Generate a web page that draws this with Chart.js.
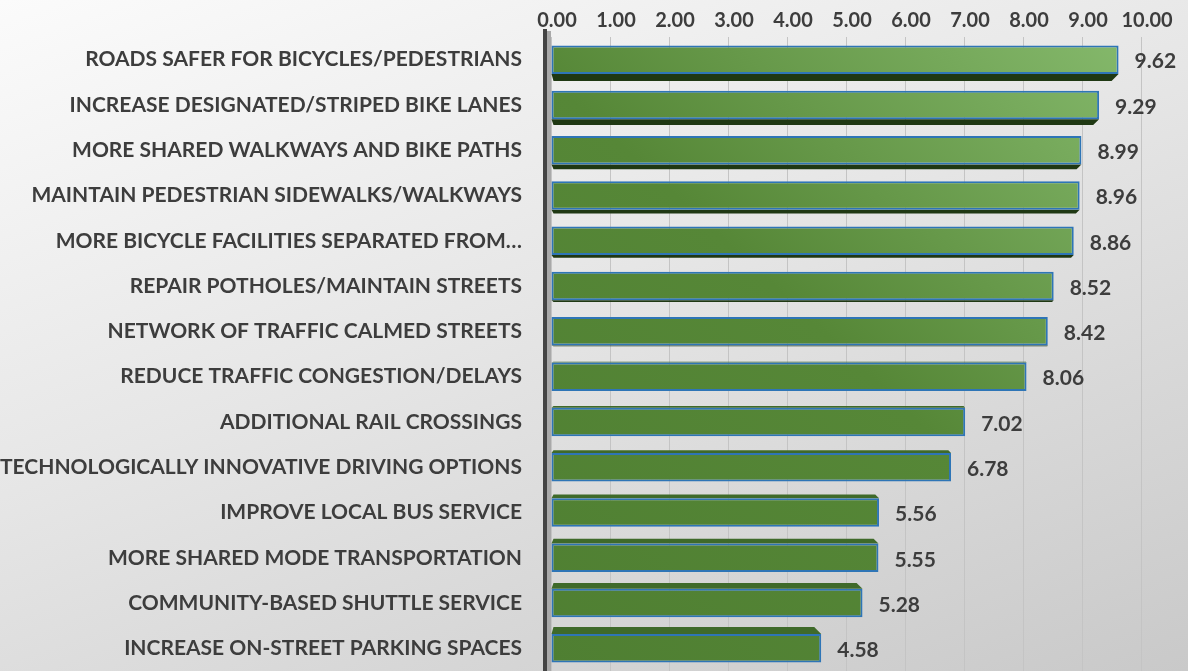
<!DOCTYPE html>
<html>
<head>
<meta charset="utf-8">
<script src="https://cdn.jsdelivr.net/npm/chart.js@4.4.1/dist/chart.umd.min.js"></script>
<style>
  html, body { margin:0; padding:0; }
  body { width:1188px; height:671px; overflow:hidden;
    background: linear-gradient(160deg, #fbfbfb 0%, #e6e6e6 45%, #c9c9c9 100%); }
  #wrap { position:relative; width:1188px; height:671px; }
</style>
</head>
<body>
<div id="wrap"><canvas id="chart" width="1188" height="671"></canvas></div>
<script>
// priorities, ranked by mean score
const categories = [
  'ROADS SAFER FOR BICYCLES/PEDESTRIANS',
  'INCREASE DESIGNATED/STRIPED BIKE LANES',
  'MORE SHARED WALKWAYS AND BIKE PATHS',
  'MAINTAIN PEDESTRIAN SIDEWALKS/WALKWAYS',
  'MORE BICYCLE FACILITIES SEPARATED FROM…',
  'REPAIR POTHOLES/MAINTAIN STREETS',
  'NETWORK OF TRAFFIC CALMED STREETS',
  'REDUCE TRAFFIC CONGESTION/DELAYS',
  'ADDITIONAL RAIL CROSSINGS',
  'TECHNOLOGICALLY INNOVATIVE DRIVING OPTIONS',
  'IMPROVE LOCAL BUS SERVICE',
  'MORE SHARED MODE TRANSPORTATION',
  'COMMUNITY-BASED SHUTTLE SERVICE',
  'INCREASE ON-STREET PARKING SPACES'
];
const scores = [9.62, 9.29, 8.99, 8.96, 8.86, 8.52, 8.42, 8.06, 7.02, 6.78, 5.56, 5.55, 5.28, 4.58];
const xTicks = [0, 1, 2, 3, 4, 5, 6, 7, 8, 9, 10];

const LABEL_FONT = { family: 'Lato', weight: 'bold', size: 21 };
const TICK_FONT = { family: 'Lato', weight: 'bold', size: 20 };
const TEXT = '#3d3d3d';
const AXIS_W = 551;

// diagonal light across the plot: darker bottom-left, lighter top-right
function barFill(ctx){
  const area = ctx.chart.chartArea;
  if (!area) return '#548235';
  const g = ctx.chart.ctx.createLinearGradient(area.left, area.bottom, area.right, area.top);
  g.addColorStop(0, '#4f7f32');
  g.addColorStop(0.5, '#568737');
  g.addColorStop(1, '#86ba6d');
  return g;
}

// side face of each bar + back wall + value labels
const depthPlugin = {
  id: 'depth',
  beforeDatasetsDraw(chart){
    const { ctx, chartArea: a } = chart;
    ctx.save();
    ctx.fillStyle = '#a9a9a9';
    ctx.fillRect(a.left - 6, a.top - 6, 6, a.bottom - a.top + 6);
    ctx.fillStyle = '#444';
    ctx.fillRect(a.left - 8, a.top - 8, 4, a.bottom - a.top + 8);
    const meta = chart.getDatasetMeta(0);
    const n = meta.data.length;
    meta.data.forEach((bar, i) => {
      const dy = 7 * (1 - 2 * i / (n - 1));
      const h = bar.height / 2;
      const x0 = bar.base, x1 = bar.x;
      const edge = dy > 0 ? bar.y + h : bar.y - h;
      ctx.beginPath();
      ctx.moveTo(x0, edge);
      ctx.lineTo(x1, edge);
      ctx.lineTo(x1 - Math.abs(dy), edge + dy);
      ctx.lineTo(x0 + 2, edge + dy);
      ctx.closePath();
      ctx.fillStyle = dy > 0 ? '#1f3813' : '#3f6a2a';
      ctx.fill();
    });
    ctx.restore();
  },
  afterDatasetsDraw(chart){
    const { ctx } = chart;
    const meta = chart.getDatasetMeta(0);
    ctx.save();
    ctx.font = 'bold 21px Lato';
    ctx.fillStyle = TEXT;
    ctx.textBaseline = 'middle';
    meta.data.forEach((bar, i) => {
      ctx.fillText(scores[i].toFixed(2), bar.x + 16, bar.y + 2);
    });
    ctx.restore();
  }
};

new Chart(document.getElementById('chart'), {
  type: 'bar',
  data: {
    labels: categories,
    datasets: [{
      data: scores,
      backgroundColor: barFill,
      borderColor: '#2e75b6',
      borderWidth: 2,
      borderSkipped: false,
      barPercentage: 0.63,
      categoryPercentage: 1
    }]
  },
  options: {
    indexAxis: 'y',
    responsive: false,
    animation: false,
    layout: { padding: { top: 0, right: 47, bottom: 0, left: 0 } },
    plugins: { legend: { display: false }, tooltip: { enabled: false } },
    scales: {
      x: {
        position: 'top',
        min: 0, max: 10,
        afterBuildTicks(s){ s.ticks = xTicks.map(v => ({ value: v })); },
        afterFit(s){ s.height = 37; s.paddingLeft = 0; s.paddingRight = 0; },
        ticks: { color: TEXT, font: TICK_FONT, padding: 4, labelOffset: 6, callback: v => Number(v).toFixed(2) },
        grid: { color: '#c4c4c4', lineWidth: 1, drawTicks: false },
        border: { display: false }
      },
      y: {
        afterFit(s){ s.width = AXIS_W; s.paddingTop = 0; s.paddingBottom = 0; },
        ticks: { color: TEXT, font: LABEL_FONT, padding: 21, autoSkip: false },
        grid: { display: false },
        border: { display: false }
      }
    }
  },
  plugins: [depthPlugin]
});
</script>
</body>
</html>
